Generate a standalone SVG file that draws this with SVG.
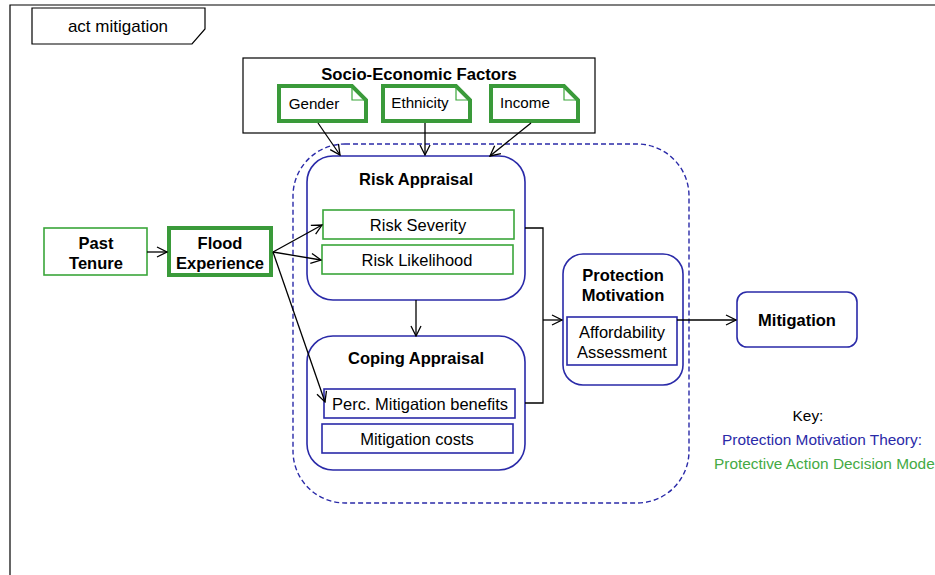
<svg xmlns="http://www.w3.org/2000/svg" width="935" height="575" viewBox="0 0 935 575">
<defs>
<style>
text{font-family:"Liberation Sans",Arial,sans-serif;fill:#000}
.b{font-weight:bold}
.blue{fill:none;stroke:#2a2aa8;stroke-width:1.6}
.gthin{fill:#fff;stroke:#3aa63a;stroke-width:1.6}
.gthick{fill:#fff;stroke:#3a9a3a;stroke-width:4}
.ln{fill:none;stroke:#000;stroke-width:1.3}
</style>
<marker id="ah" viewBox="0 0 12 12" refX="11" refY="6" markerWidth="12" markerHeight="12" markerUnits="userSpaceOnUse" orient="auto">
<path d="M1,1 L11,6 L1,11" fill="none" stroke="#000" stroke-width="1.3"/>
</marker>
</defs>
<rect width="935" height="575" fill="#fff"/>
<g id="frame">
<path d="M10,575 V5 H935" fill="none" stroke="#000" stroke-width="1.2"/>
<path d="M32,8 H205 V29 L192,44 H32 Z" fill="#fff" stroke="#000" stroke-width="1.2"/>
<text x="118" y="32" font-size="17" text-anchor="middle">act mitigation</text>
</g>
<g id="socio">
<rect x="243" y="58" width="352" height="75" fill="#fff" stroke="#000" stroke-width="1.2"/>
<text x="419" y="80" font-size="16.7" class="b" text-anchor="middle">Socio-Economic Factors</text>
</g>
<g id="gender">
<path d="M279,86 H352 L366,100 V121 H279 Z" class="gthick"/>
<path d="M352,86 V100 H366" fill="none" stroke="#3aa63a" stroke-width="1.2"/>
<text x="314" y="109" font-size="15.2" text-anchor="middle">Gender</text>
</g>
<g id="ethnicity">
<path d="M383,86 H456 L470,100 V121 H383 Z" class="gthick"/>
<path d="M456,86 V100 H470" fill="none" stroke="#3aa63a" stroke-width="1.2"/>
<text x="420" y="108" font-size="15.2" text-anchor="middle">Ethnicity</text>
</g>
<g id="income">
<path d="M491,86 H564 L578,100 V121 H491 Z" class="gthick"/>
<path d="M564,86 V100 H578" fill="none" stroke="#3aa63a" stroke-width="1.2"/>
<text x="525" y="108" font-size="15.2" text-anchor="middle">Income</text>
</g>
<g id="pmt-boundary">
<rect x="293" y="144" width="396" height="359" rx="52" ry="52" fill="none" stroke="#2a2aa8" stroke-width="1.4" stroke-dasharray="5,3"/>
</g>
<g id="risk-appraisal">
<rect x="307" y="156" width="218" height="144" rx="26" ry="26" class="blue"/>
<text x="416" y="185" font-size="16.5" class="b" text-anchor="middle">Risk Appraisal</text>
</g>
<g id="risk-severity">
<rect x="323" y="210" width="191" height="29" class="gthin"/>
<text x="418" y="231" font-size="16.5" text-anchor="middle">Risk Severity</text>
</g>
<g id="risk-likelihood">
<rect x="322" y="245" width="191" height="29" class="gthin"/>
<text x="417" y="266" font-size="16.5" text-anchor="middle">Risk Likelihood</text>
</g>
<g id="coping-appraisal">
<rect x="307" y="336" width="218" height="134" rx="26" ry="26" class="blue"/>
<text x="416" y="364" font-size="16.5" class="b" text-anchor="middle">Coping Appraisal</text>
</g>
<g id="perc-benefits">
<rect x="324" y="389" width="191" height="29" fill="#fff" stroke="#2a2aa8" stroke-width="1.6"/>
<text x="420" y="410" font-size="16.5" text-anchor="middle">Perc. Mitigation benefits</text>
</g>
<g id="mitigation-costs">
<rect x="322" y="424" width="191" height="29" fill="#fff" stroke="#2a2aa8" stroke-width="1.6"/>
<text x="417" y="445" font-size="16.5" text-anchor="middle">Mitigation costs</text>
</g>
<g id="protection-motivation">
<rect x="563" y="254" width="120" height="131" rx="20" ry="20" class="blue"/>
<text x="623" y="281" font-size="16.5" class="b" text-anchor="middle">Protection</text>
<text x="623" y="301" font-size="16.5" class="b" text-anchor="middle">Motivation</text>
</g>
<g id="affordability">
<rect x="567" y="317" width="110" height="48" fill="#fff" stroke="#2a2aa8" stroke-width="1.6"/>
<text x="622" y="338" font-size="16.5" text-anchor="middle">Affordability</text>
<text x="622" y="358" font-size="16.5" text-anchor="middle">Assessment</text>
</g>
<g id="mitigation">
<rect x="737" y="292" width="120" height="55" rx="10" ry="10" class="blue"/>
<text x="797" y="326" font-size="16.5" class="b" text-anchor="middle">Mitigation</text>
</g>
<g id="past-tenure">
<rect x="44" y="228" width="103" height="47" class="gthin"/>
<text x="96" y="249" font-size="16.5" class="b" text-anchor="middle">Past</text>
<text x="96" y="269" font-size="16.5" class="b" text-anchor="middle">Tenure</text>
</g>
<g id="flood-experience">
<rect x="169" y="228" width="102" height="47" class="gthick"/>
<text x="220" y="249" font-size="16.5" class="b" text-anchor="middle">Flood</text>
<text x="220" y="269" font-size="16.5" class="b" text-anchor="middle">Experience</text>
</g>
<g id="connectors">
<line x1="318" y1="123" x2="340" y2="155" class="ln" marker-end="url(#ah)"/>
<line x1="425" y1="123" x2="425" y2="155" class="ln" marker-end="url(#ah)"/>
<line x1="531" y1="123" x2="490" y2="156" class="ln" marker-end="url(#ah)"/>
<line x1="147" y1="252" x2="167" y2="252" class="ln" marker-end="url(#ah)"/>
<line x1="273" y1="252" x2="322" y2="225" class="ln" marker-end="url(#ah)"/>
<line x1="273" y1="252" x2="321" y2="260" class="ln" marker-end="url(#ah)"/>
<line x1="273" y1="252" x2="325" y2="402" class="ln" marker-end="url(#ah)"/>
<line x1="416" y1="300" x2="416" y2="336" class="ln" marker-end="url(#ah)"/>
<path d="M525,228 H543 V403 H525" class="ln"/>
<line x1="543" y1="320" x2="562" y2="320" class="ln" marker-end="url(#ah)"/>
<line x1="677" y1="320" x2="736" y2="320" class="ln" marker-end="url(#ah)"/>
</g>
<g id="key">
<text x="808" y="421" font-size="15.4" text-anchor="middle">Key:</text>
<text x="822" y="445" font-size="15.4" text-anchor="middle" style="fill:#2a2aa8">Protection Motivation Theory:</text>
<text x="714" y="469" font-size="15.4" style="fill:#44aa44">Protective Action Decision Mode</text>
</g>
</svg>
